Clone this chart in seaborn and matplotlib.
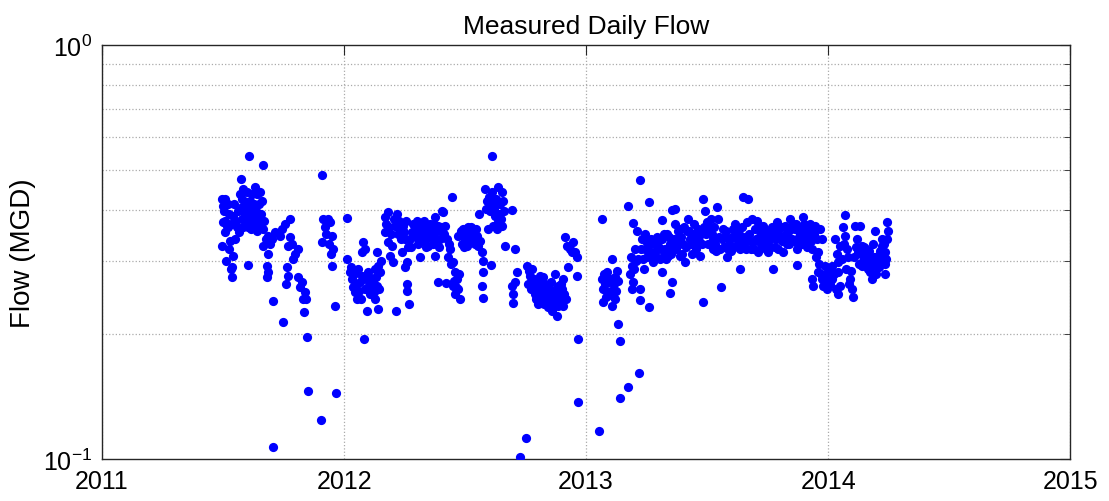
import numpy as np
import pandas as pd
import matplotlib
matplotlib.use("Agg")
import matplotlib.pyplot as plt
import seaborn as sns
from matplotlib.ticker import LogLocator, NullFormatter

# measured daily flow (decimal year, MGD)
year_2011 = [2011.496, 2011.496, 2011.500, 2011.500, 2011.508, 2011.508, 2011.508, 2011.517,
             2011.521, 2011.521, 2011.529, 2011.537, 2011.537, 2011.541, 2011.541, 2011.550,
             2011.558, 2011.562, 2011.574, 2011.579, 2011.579, 2011.579, 2011.583, 2011.583,
             2011.591, 2011.599, 2011.599, 2011.603, 2011.603, 2011.607, 2011.612, 2011.612,
             2011.612, 2011.624, 2011.624, 2011.632, 2011.640, 2011.640, 2011.640, 2011.653,
             2011.653, 2011.661, 2011.665, 2011.665, 2011.665, 2011.682, 2011.682, 2011.686,
             2011.686, 2011.686, 2011.702, 2011.707, 2011.707, 2011.715, 2011.748, 2011.756,
             2011.760, 2011.764, 2011.769, 2011.769, 2011.777, 2011.777, 2011.798, 2011.810,
             2011.810, 2011.818, 2011.831, 2011.835, 2011.839, 2011.847, 2011.851, 2011.905,
             2011.909, 2011.909, 2011.913, 2011.921, 2011.934, 2011.942, 2011.950, 2011.950,
             2011.955, 2011.963, 2011.967,
             2011.504, 2011.525, 2011.533, 2011.545, 2011.554, 2011.566, 2011.570, 2011.587,
             2011.595, 2011.616, 2011.620, 2011.628, 2011.636, 2011.645, 2011.649, 2011.657,
             2011.669, 2011.678, 2011.694, 2011.512, 2011.525, 2011.533, 2011.736, 2011.744,
             2011.785, 2011.789, 2011.826, 2011.843, 2011.926, 2011.938, 2011.946]
flow_2011 = [0.425, 0.327, 0.408, 0.374, 0.425, 0.376, 0.353, 0.365,
             0.413, 0.363, 0.336, 0.291, 0.275, 0.386, 0.309, 0.340,
             0.363, 0.397, 0.475, 0.425, 0.406, 0.380, 0.449, 0.363,
             0.391, 0.442, 0.418, 0.363, 0.294, 0.539, 0.420, 0.402,
             0.380, 0.391, 0.374, 0.454, 0.437, 0.380, 0.355, 0.442,
             0.370, 0.420, 0.513, 0.359, 0.327, 0.293, 0.275, 0.346,
             0.313, 0.283, 0.340, 0.241, 0.107, 0.353, 0.214, 0.370,
             0.265, 0.291, 0.327, 0.277, 0.380, 0.344, 0.313, 0.322,
             0.275, 0.260, 0.243, 0.226, 0.253, 0.197, 0.146, 0.124,
             0.485, 0.334, 0.380, 0.363, 0.380, 0.374, 0.346, 0.293,
             0.322, 0.234, 0.144,
             0.397, 0.391, 0.370, 0.413, 0.376, 0.353, 0.437, 0.402,
             0.376, 0.359, 0.437, 0.413, 0.397, 0.363, 0.413, 0.391,
             0.376, 0.340, 0.331, 0.301, 0.322, 0.288, 0.346, 0.359,
             0.331, 0.304, 0.268, 0.243, 0.350, 0.331, 0.313]

year_2012 = [2012.012, 2012.012, 2012.025, 2012.033, 2012.037, 2012.045, 2012.054, 2012.058,
             2012.066, 2012.074, 2012.074, 2012.079, 2012.083, 2012.087, 2012.087, 2012.095,
             2012.099, 2012.099, 2012.107, 2012.116, 2012.120, 2012.128, 2012.128, 2012.136,
             2012.136, 2012.140, 2012.140, 2012.149, 2012.169, 2012.169, 2012.182, 2012.182,
             2012.190, 2012.198, 2012.202, 2012.211, 2012.215, 2012.219, 2012.223, 2012.231,
             2012.240, 2012.244, 2012.252, 2012.252, 2012.260, 2012.260, 2012.260, 2012.264,
             2012.269, 2012.273, 2012.281, 2012.293, 2012.302, 2012.306, 2012.314, 2012.322,
             2012.335, 2012.343, 2012.347, 2012.355, 2012.364, 2012.368, 2012.376, 2012.376,
             2012.388, 2012.388, 2012.397, 2012.405, 2012.409, 2012.417, 2012.421, 2012.426,
             2012.430, 2012.438, 2012.446, 2012.450, 2012.450, 2012.459, 2012.459, 2012.467,
             2012.471, 2012.471, 2012.479, 2012.488, 2012.492, 2012.500, 2012.508, 2012.512,
             2012.521, 2012.529, 2012.533, 2012.545, 2012.550, 2012.554, 2012.558, 2012.570,
             2012.570, 2012.574, 2012.574, 2012.574, 2012.583, 2012.591, 2012.595, 2012.603,
             2012.607, 2012.612, 2012.612, 2012.612, 2012.616, 2012.624, 2012.636, 2012.636,
             2012.653, 2012.653, 2012.657, 2012.665, 2012.694, 2012.694, 2012.698, 2012.698,
             2012.707, 2012.707, 2012.715, 2012.727, 2012.752, 2012.756, 2012.769, 2012.781,
             2012.789, 2012.798, 2012.802, 2012.810, 2012.810, 2012.818, 2012.831, 2012.831,
             2012.839, 2012.843, 2012.851, 2012.860, 2012.864, 2012.872, 2012.880, 2012.884,
             2012.884, 2012.888, 2012.893, 2012.901, 2012.905, 2012.905, 2012.913, 2012.921,
             2012.926, 2012.934, 2012.942, 2012.946, 2012.955, 2012.963, 2012.963, 2012.967,
             2012.967,
             2012.050, 2012.062, 2012.070, 2012.091, 2012.103, 2012.112, 2012.124, 2012.132,
             2012.145, 2012.153, 2012.041, 2012.029, 2012.174, 2012.186, 2012.194, 2012.207,
             2012.227, 2012.236, 2012.248, 2012.256, 2012.277, 2012.285, 2012.298, 2012.310,
             2012.318, 2012.326, 2012.331, 2012.339, 2012.351, 2012.360, 2012.372, 2012.380,
             2012.384, 2012.393, 2012.401, 2012.413, 2012.434, 2012.442, 2012.455, 2012.463,
             2012.475, 2012.483, 2012.496, 2012.504, 2012.517, 2012.525, 2012.537, 2012.541,
             2012.562, 2012.587, 2012.599, 2012.620, 2012.628, 2012.632, 2012.640, 2012.645,
             2012.649, 2012.661, 2012.760, 2012.764, 2012.773, 2012.777, 2012.785, 2012.793,
             2012.806, 2012.814, 2012.822, 2012.826, 2012.835, 2012.847, 2012.855, 2012.868,
             2012.876, 2012.897, 2012.909, 2012.917]
flow_2012 = [0.382, 0.304, 0.283, 0.272, 0.260, 0.253, 0.243, 0.288,
             0.268, 0.316, 0.277, 0.334, 0.195, 0.322, 0.257, 0.228,
             0.283, 0.260, 0.250, 0.272, 0.268, 0.288, 0.243, 0.316,
             0.262, 0.293, 0.230, 0.283, 0.384, 0.353, 0.395, 0.334,
             0.309, 0.327, 0.299, 0.365, 0.228, 0.391, 0.350, 0.359,
             0.316, 0.365, 0.340, 0.291, 0.299, 0.265, 0.255, 0.325,
             0.237, 0.340, 0.353, 0.363, 0.376, 0.331, 0.308, 0.365,
             0.340, 0.355, 0.327, 0.370, 0.346, 0.331, 0.384, 0.309,
             0.365, 0.268, 0.340, 0.397, 0.395, 0.365, 0.266, 0.340,
             0.308, 0.322, 0.429, 0.299, 0.262, 0.283, 0.250, 0.272,
             0.346, 0.257, 0.243, 0.331, 0.359, 0.340, 0.327, 0.363,
             0.353, 0.334, 0.355, 0.359, 0.346, 0.327, 0.391, 0.316,
             0.262, 0.301, 0.283, 0.245, 0.449, 0.420, 0.359, 0.397,
             0.294, 0.539, 0.442, 0.413, 0.365, 0.386, 0.454, 0.374,
             0.442, 0.365, 0.420, 0.327, 0.399, 0.262, 0.250, 0.238,
             0.322, 0.268, 0.283, 0.101, 0.112, 0.293, 0.277, 0.268,
             0.250, 0.257, 0.237, 0.277, 0.243, 0.262, 0.265, 0.248,
             0.239, 0.233, 0.257, 0.228, 0.248, 0.280, 0.221, 0.262,
             0.234, 0.243, 0.248, 0.257, 0.272, 0.234, 0.344, 0.327,
             0.291, 0.322, 0.316, 0.334, 0.316, 0.308, 0.277, 0.195,
             0.137,
             0.265, 0.255, 0.243, 0.272, 0.275, 0.260, 0.253, 0.275,
             0.257, 0.301, 0.280, 0.291, 0.370, 0.363, 0.350, 0.380,
             0.376, 0.340, 0.353, 0.376, 0.325, 0.370, 0.344, 0.355,
             0.336, 0.350, 0.376, 0.325, 0.344, 0.359, 0.370, 0.340,
             0.355, 0.325, 0.363, 0.350, 0.331, 0.296, 0.269, 0.260,
             0.280, 0.355, 0.325, 0.350, 0.336, 0.363, 0.344, 0.331,
             0.336, 0.402, 0.429, 0.402, 0.425, 0.359, 0.391, 0.413,
             0.380, 0.397, 0.265, 0.285, 0.257, 0.288, 0.272, 0.243,
             0.265, 0.255, 0.275, 0.237, 0.257, 0.246, 0.268, 0.237,
             0.255, 0.265, 0.250, 0.243]

year_2013 = [2013.054, 2013.066, 2013.066, 2013.070, 2013.070, 2013.087, 2013.091, 2013.099,
             2013.107, 2013.107, 2013.112, 2013.120, 2013.120, 2013.132, 2013.132, 2013.140,
             2013.140, 2013.174, 2013.174, 2013.182, 2013.190, 2013.190, 2013.194, 2013.194,
             2013.202, 2013.211, 2013.215, 2013.219, 2013.223, 2013.223, 2013.223, 2013.231,
             2013.244, 2013.244, 2013.260, 2013.260, 2013.264, 2013.273, 2013.277, 2013.285,
             2013.293, 2013.298, 2013.306, 2013.314, 2013.314, 2013.314, 2013.326, 2013.335,
             2013.339, 2013.347, 2013.347, 2013.355, 2013.355, 2013.360, 2013.368, 2013.368,
             2013.376, 2013.388, 2013.388, 2013.401, 2013.409, 2013.417, 2013.421, 2013.430,
             2013.438, 2013.450, 2013.459, 2013.463, 2013.471, 2013.479, 2013.483, 2013.483,
             2013.492, 2013.496, 2013.500, 2013.512, 2013.517, 2013.525, 2013.525, 2013.533,
             2013.541, 2013.545, 2013.554, 2013.558, 2013.562, 2013.566, 2013.574, 2013.583,
             2013.587, 2013.595, 2013.599, 2013.607, 2013.616, 2013.624, 2013.632, 2013.636,
             2013.636, 2013.649, 2013.653, 2013.665, 2013.669, 2013.674, 2013.682, 2013.686,
             2013.690, 2013.698, 2013.707, 2013.711, 2013.719, 2013.727, 2013.731, 2013.740,
             2013.748, 2013.752, 2013.760, 2013.769, 2013.773, 2013.781, 2013.789, 2013.798,
             2013.802, 2013.810, 2013.814, 2013.822, 2013.831, 2013.835, 2013.843, 2013.851,
             2013.855, 2013.864, 2013.872, 2013.872, 2013.880, 2013.888, 2013.897, 2013.905,
             2013.913, 2013.917, 2013.926, 2013.934, 2013.934, 2013.938, 2013.942, 2013.946,
             2013.955, 2013.959, 2013.959, 2013.967, 2013.975, 2013.975, 2013.979, 2013.988,
             2013.996,
             2013.074, 2013.079, 2013.083, 2013.095, 2013.103, 2013.116, 2013.124, 2013.128,
             2013.186, 2013.198, 2013.207, 2013.227, 2013.236, 2013.240, 2013.248, 2013.252,
             2013.256, 2013.269, 2013.281, 2013.289, 2013.302, 2013.310, 2013.318, 2013.322,
             2013.331, 2013.343, 2013.351, 2013.364, 2013.372, 2013.380, 2013.384, 2013.393,
             2013.397, 2013.405, 2013.413, 2013.426, 2013.434, 2013.442, 2013.446, 2013.455,
             2013.467, 2013.475, 2013.488, 2013.504, 2013.508, 2013.521, 2013.529, 2013.537,
             2013.550, 2013.570, 2013.579, 2013.591, 2013.603, 2013.612, 2013.620, 2013.628,
             2013.640, 2013.645, 2013.657, 2013.661, 2013.678, 2013.694, 2013.702, 2013.715,
             2013.723, 2013.736, 2013.744, 2013.756, 2013.764, 2013.777, 2013.785, 2013.793,
             2013.806, 2013.818, 2013.826, 2013.839, 2013.847, 2013.860, 2013.868, 2013.876,
             2013.884, 2013.893, 2013.901, 2013.909, 2013.921, 2013.930, 2013.950, 2013.963,
             2013.971, 2013.983, 2013.992]
flow_2013 = [0.117, 0.380, 0.272, 0.257, 0.239, 0.283, 0.253, 0.272,
             0.304, 0.234, 0.248, 0.275, 0.243, 0.269, 0.212, 0.193,
             0.140, 0.408, 0.149, 0.280, 0.293, 0.257, 0.372, 0.268,
             0.322, 0.355, 0.304, 0.161, 0.472, 0.257, 0.242, 0.340,
             0.350, 0.322, 0.418, 0.233, 0.313, 0.334, 0.299, 0.316,
             0.344, 0.327, 0.304, 0.378, 0.340, 0.283, 0.322, 0.350,
             0.309, 0.331, 0.252, 0.399, 0.268, 0.322, 0.402, 0.370,
             0.340, 0.359, 0.309, 0.331, 0.299, 0.355, 0.380, 0.340,
             0.313, 0.327, 0.340, 0.359, 0.309, 0.331, 0.425, 0.239,
             0.397, 0.350, 0.374, 0.353, 0.380, 0.340, 0.322, 0.331,
             0.406, 0.380, 0.322, 0.260, 0.340, 0.359, 0.344, 0.308,
             0.322, 0.340, 0.318, 0.359, 0.370, 0.340, 0.350, 0.322,
             0.288, 0.429, 0.331, 0.374, 0.425, 0.350, 0.322, 0.380,
             0.334, 0.359, 0.376, 0.316, 0.346, 0.325, 0.365, 0.334,
             0.355, 0.316, 0.340, 0.363, 0.288, 0.325, 0.374, 0.359,
             0.346, 0.336, 0.316, 0.365, 0.331, 0.353, 0.380, 0.340,
             0.370, 0.359, 0.322, 0.294, 0.344, 0.363, 0.384, 0.353,
             0.325, 0.340, 0.370, 0.322, 0.272, 0.262, 0.350, 0.365,
             0.340, 0.316, 0.283, 0.359, 0.340, 0.272, 0.262, 0.293,
             0.257,
             0.280, 0.265, 0.246, 0.268, 0.255, 0.265, 0.255, 0.285,
             0.308, 0.288, 0.301, 0.322, 0.304, 0.288, 0.336, 0.308,
             0.322, 0.340, 0.331, 0.308, 0.340, 0.322, 0.308, 0.350,
             0.304, 0.344, 0.313, 0.340, 0.322, 0.355, 0.331, 0.344,
             0.313, 0.363, 0.325, 0.355, 0.331, 0.350, 0.370, 0.322,
             0.336, 0.350, 0.363, 0.331, 0.363, 0.350, 0.363, 0.318,
             0.344, 0.325, 0.355, 0.331, 0.344, 0.325, 0.355, 0.331,
             0.340, 0.363, 0.344, 0.322, 0.336, 0.322, 0.340, 0.359,
             0.331, 0.350, 0.322, 0.355, 0.325, 0.350, 0.340, 0.322,
             0.363, 0.340, 0.350, 0.331, 0.359, 0.336, 0.370, 0.331,
             0.350, 0.331, 0.370, 0.340, 0.355, 0.336, 0.308, 0.296,
             0.280, 0.275, 0.269]

year_2014 = [2014.000, 2014.017, 2014.017, 2014.029, 2014.041, 2014.041, 2014.041, 2014.050,
             2014.050, 2014.062, 2014.070, 2014.070, 2014.079, 2014.083, 2014.091, 2014.099,
             2014.103, 2014.112, 2014.120, 2014.124, 2014.132, 2014.140, 2014.140, 2014.145,
             2014.153, 2014.157, 2014.165, 2014.165, 2014.174, 2014.174, 2014.182, 2014.186,
             2014.194, 2014.194, 2014.198, 2014.202, 2014.207, 2014.215, 2014.215, 2014.223,
             2014.223, 2014.227, 2014.231, 2014.236, 2014.236, 2014.236, 2014.244, 2014.244,
             2014.248,
             2014.008, 2014.025, 2014.033, 2014.037, 2014.058, 2014.066, 2014.074, 2014.087,
             2014.095, 2014.107, 2014.116, 2014.128, 2014.136, 2014.149, 2014.161, 2014.169,
             2014.178, 2014.190, 2014.211, 2014.219, 2014.240]
flow_2014 = [0.283, 0.293, 0.272, 0.340, 0.299, 0.283, 0.250, 0.327,
             0.262, 0.363, 0.389, 0.346, 0.322, 0.308, 0.272, 0.257,
             0.246, 0.365, 0.340, 0.316, 0.365, 0.327, 0.293, 0.301,
             0.309, 0.322, 0.299, 0.288, 0.308, 0.283, 0.272, 0.331,
             0.355, 0.293, 0.280, 0.301, 0.309, 0.318, 0.299, 0.340,
             0.327, 0.308, 0.331, 0.316, 0.296, 0.280, 0.374, 0.340,
             0.355,
             0.265, 0.280, 0.257, 0.313, 0.304, 0.331, 0.288, 0.265,
             0.285, 0.308, 0.325, 0.296, 0.313, 0.325, 0.301, 0.318,
             0.296, 0.308, 0.291, 0.308, 0.304]

year_ticks = [2011, 2012, 2013, 2014, 2015]
year_labels = ["2011", "2012", "2013", "2014", "2015"]

df = pd.DataFrame({
    "year": year_2011 + year_2012 + year_2013 + year_2014,
    "flow": flow_2011 + flow_2012 + flow_2013 + flow_2014,
})

sns.set_style("white")
plt.rcParams["font.family"] = ["Liberation Sans", "DejaVu Sans"]
plt.rcParams["text.color"] = "black"
plt.rcParams["axes.labelcolor"] = "black"
plt.rcParams["xtick.color"] = "black"
plt.rcParams["ytick.color"] = "black"

fig, ax = plt.subplots(figsize=(11.09, 5.02), dpi=100)
fig.subplots_adjust(left=0.092, right=0.965, bottom=0.084, top=0.908)

sns.scatterplot(data=df, x="year", y="flow", color="#0000ff", s=44,
                linewidth=0, ax=ax, zorder=3)

ax.set_yscale("log")
ax.set_xlim(2011, 2015)
ax.set_ylim(0.1, 1)
ax.set_xticks(year_ticks)
ax.set_xticklabels(year_labels)
ax.yaxis.set_major_locator(LogLocator(base=10))
ax.yaxis.set_minor_locator(LogLocator(base=10, subs=np.arange(2, 10)))
ax.yaxis.set_minor_formatter(NullFormatter())

ax.grid(True, which="major", axis="x", linestyle=":", color="#aaaaaa", linewidth=0.9)
ax.grid(True, which="minor", axis="y", linestyle=":", color="#aaaaaa", linewidth=0.9)
ax.set_axisbelow(True)

for s in ax.spines.values():
    s.set_color("#262626")
    s.set_linewidth(1.0)

ax.tick_params(which="both", direction="in", top=True, right=True, color="#262626")
ax.tick_params(which="major", length=7, labelsize=18, pad=7)
ax.tick_params(which="minor", length=4)

ax.set_xlabel("")
ax.set_ylabel("Flow (MGD)", fontsize=20, labelpad=5)
ax.set_title("Measured Daily Flow", fontsize=19, pad=9)

plt.savefig("out.png", dpi=100)
